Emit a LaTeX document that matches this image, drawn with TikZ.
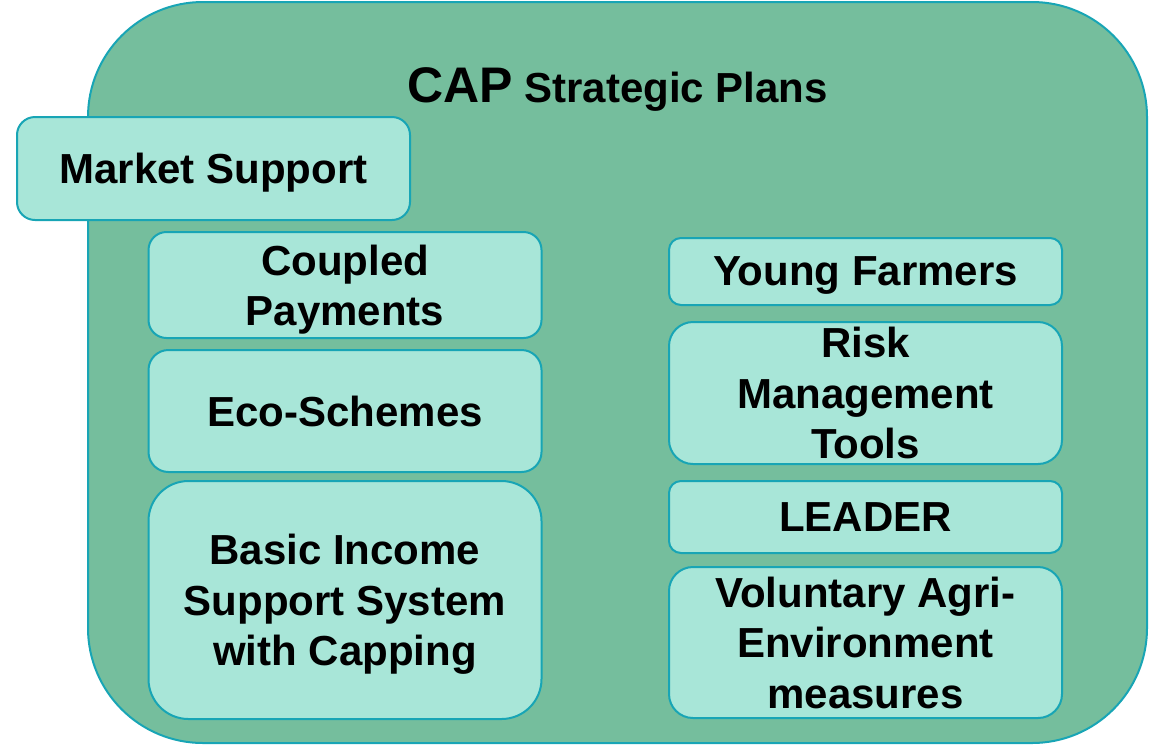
\documentclass[tikz,border=0pt]{standalone}
\usepackage{fontspec}
\setmainfont{Liberation Sans}
\usetikzlibrary{positioning}
\definecolor{capgreen}{HTML}{75BE9D}
\definecolor{boxfill}{HTML}{A8E6D8}
\definecolor{boxline}{HTML}{18A5B5}
\newcommand\flatline[1]{\raisebox{0pt}[\height][0pt]{#1}} % last line without descender depth
\tikzset{
  measure/.style={draw=boxline, fill=boxfill, line width=1pt, align=center,
    minimum width=196.5pt, inner sep=0pt,
    font=\bfseries\fontsize{21}{25.2}\selectfont},
}

\begin{document}
\begin{tikzpicture}[x=0.5pt,y=-0.5pt]
  \useasboundingbox (0,0) rectangle (1149,745);
  % the plan itself
  \draw[boxline, fill=capgreen, line width=1pt, rounded corners=57.5pt] (88,2) rectangle (1147,743);
  \node[anchor=base, font=\bfseries\fontsize{21}{25.2}\selectfont] (title) at (617.5,102)
    {{\fontsize{25}{30}\selectfont CAP} Strategic Plans};
  % market support sticks out on the left
  \node[measure, minimum height=51.5pt, rounded corners=9pt] (market) at (213.5,168.5) {\flatline{Market Support}};
  % left column: name/centre y/height/radius/text
  \foreach \n/\y/\h/\r/\t in {coupled/285/106/9/{Coupled\\\flatline{Payments}},
                              eco/411/122/10/{\flatline{Eco-Schemes}},
                              basic/600/238/20/{Basic Income\\Support System\\\flatline{with Capping}}}
    { \node[measure, minimum height=\h*0.5pt, rounded corners=\r pt] (\n) at (345,\y) {\t}; }
  % right column
  \foreach \n/\y/\h/\r/\t in {young/271.5/67/6/{\flatline{Young Farmers}},
                              risk/393/142/12/{Risk\\Management\\\flatline{Tools}},
                              leader/517/72/6/{\flatline{LEADER}},
                              voluntary/642.5/151/12/{Voluntary Agri-\\Environment\\\flatline{measures}}}
    { \node[measure, minimum height=\h*0.5pt, rounded corners=\r pt] (\n) at (865.5,\y) {\t}; }
\end{tikzpicture}
\end{document}
